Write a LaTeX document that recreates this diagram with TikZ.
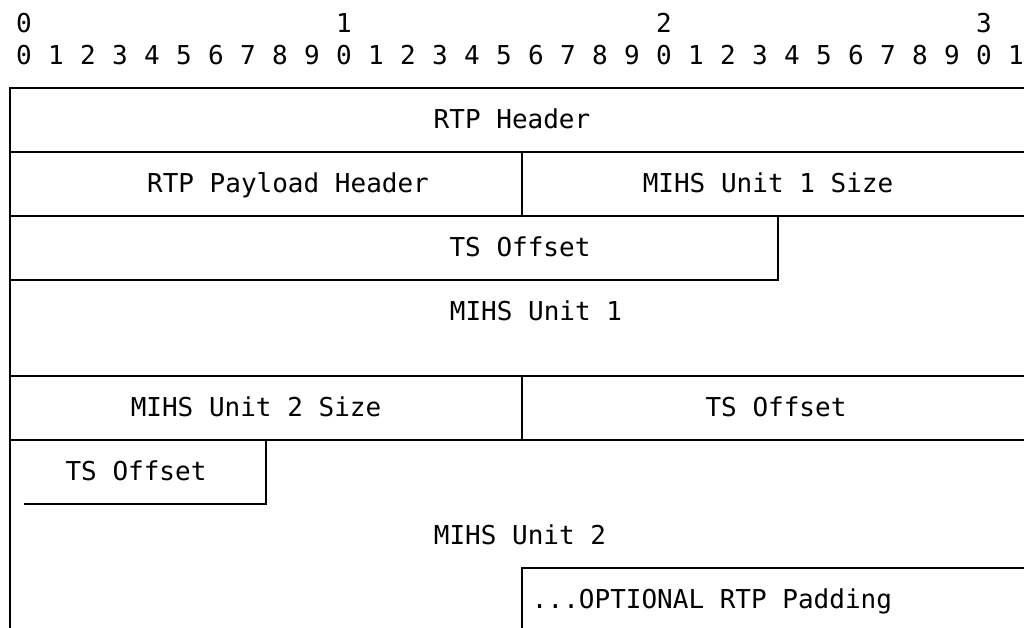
\documentclass[tikz,border=0pt]{standalone}
\usepackage{fontspec}
\setmonofont{DejaVu Sans Mono}
\begin{document}
\begin{tikzpicture}[x=1pt,y=-1pt,
  lbl/.style={font=\fontsize{26}{30}\selectfont\ttfamily, inner sep=0pt, anchor=base, text=black},
  rule/.style={draw=black, line width=2pt, line cap=rect, line join=miter}]
\useasboundingbox (0,0) rectangle (1024,628);
\clip (0,0) rectangle (1024,628);
\fill[white] (0,0) rectangle (1024,628);
% bit ruler
\node[lbl] (t0) at (24,32.5) {0};
\node[lbl] (t1) at (344,32.5) {1};
\node[lbl] (t2) at (664,32.5) {2};
\node[lbl] (t3) at (984,32.5) {3};
\foreach \i in {0,...,31} {
  \pgfmathtruncatemacro{\d}{mod(\i,10)}
  \node[lbl] (b\i) at ({24+32*\i},64.5) {\d};
}
% frame and field separators
\draw[rule] (10,632) -- (10,88) -- (1040,88);
\draw[rule] (10,152) -- (1040,152);
\draw[rule] (522,152) -- (522,216);
\draw[rule] (10,216) -- (1040,216);
\draw[rule] (10,280) -- (778,280) -- (778,216);
\draw[rule] (10,376) -- (1040,376);
\draw[rule] (522,376) -- (522,440);
\draw[rule] (10,440) -- (1040,440);
\draw[rule] (25,504) -- (266,504) -- (266,440);
\draw[rule] (522,632) -- (522,568) -- (1040,568);
% field labels
\node[lbl] (rtph) at (512,128.5) {RTP Header};
\node[lbl] (rtpph) at (288,192.5) {RTP Payload Header};
\node[lbl] (u1size) at (768,192.5) {MIHS Unit 1 Size};
\node[lbl] (ts1) at (520,256.5) {TS Offset};
\node[lbl] (u1) at (536,320.5) {MIHS Unit 1};
\node[lbl] (u2size) at (256,416.5) {MIHS Unit 2 Size};
\node[lbl] (ts2a) at (776,416.5) {TS Offset};
\node[lbl] (ts2b) at (136,480.5) {TS Offset};
\node[lbl] (u2) at (520,544.5) {MIHS Unit 2};
\node[lbl] (pad) at (712,608.5) {...OPTIONAL RTP Padding};
\end{tikzpicture}
\end{document}
